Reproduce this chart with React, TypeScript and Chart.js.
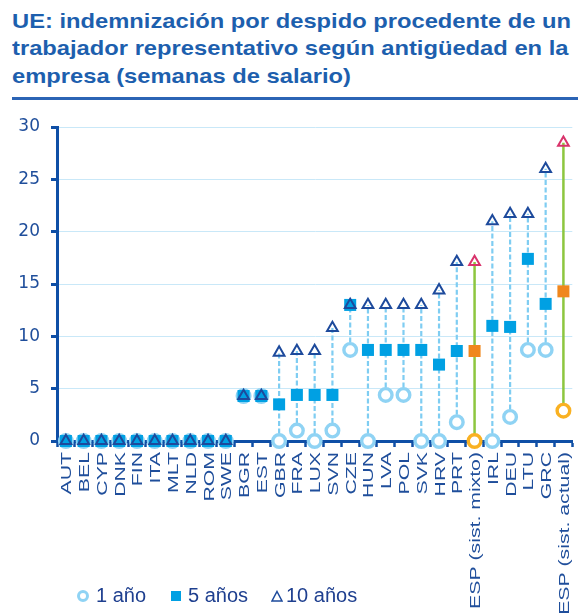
import React, { useEffect, useRef } from 'react';
import { Chart, registerables } from 'chart.js';

Chart.register(...registerables);

const categories = [
  'AUT', 'BEL', 'CYP', 'DNK', 'FIN', 'ITA', 'MLT', 'NLD', 'ROM', 'SWE',
  'BGR', 'EST', 'GBR', 'FRA', 'LUX', 'SVN', 'CZE', 'HUN', 'LVA', 'POL',
  'SVK', 'HRV', 'PRT', 'ESP (sist. mixto)', 'IRL', 'DEU', 'LTU', 'GRC', 'ESP (sist. actual)',
];
const oneYear = [
  0, 0, 0, 0, 0, 0, 0, 0, 0, 0,
  4.3, 4.3, 0, 1.0, 0, 1.0, 8.7, 0, 4.4, 4.4,
  0, 0, 1.8, 0, 0, 2.3, 8.7, 8.7, 2.9,
];
const fiveYears = [
  0, 0, 0, 0, 0, 0, 0, 0, 0, 0,
  4.3, 4.3, 3.5, 4.4, 4.4, 4.4, 13.0, 8.7, 8.7, 8.7,
  8.7, 7.3, 8.6, 8.6, 11.0, 10.9, 17.4, 13.1, 14.3,
];
const tenYears = [
  0, 0, 0, 0, 0, 0, 0, 0, 0, 0,
  4.3, 4.3, 8.45, 8.6, 8.6, 10.8, 13.0, 13.0, 13.0, 13.0,
  13.0, 14.4, 17.1, 17.1, 21.0, 21.7, 21.7, 26.0, 28.5,
];
const yMin = 0;
const yMax = 30;
const yStep = 5;
const legendLabels = ['1 año', '5 años', '10 años'];
const titleLines = [
  'UE: indemnización por despido procedente de un',
  'trabajador representativo según antigüedad en la',
  'empresa (semanas de salario)',
];

const DARK = '#0f4fa6';
const LABEL = '#1f4e9b';
const GRIDC = '#c9e8f8';
const LIGHT = '#8fd3f4';
const DASH = '#7fcdf2';
const SQUARE = '#00a0e3';
const TRI = '#1d4a9c';
const GREEN = '#8dc63f';
const ESP_CIRCLE = '#f9b122';
const ESP_SQUARE = '#f0871d';
const ESP_TRI = '#d9336b';
const FONT = '"Liberation Sans", Arial, sans-serif';

const isEsp = (i: number) => !!categories[i] && categories[i].startsWith('ESP');

const xLabelPlugin = {
  id: 'xLabelPlugin',
  afterDraw(chart: any) {
    const { ctx } = chart;
    const x = chart.scales.x;
    ctx.save();
    ctx.fillStyle = LABEL;
    ctx.font = '15.5px ' + FONT;
    ctx.textAlign = 'right';
    ctx.textBaseline = 'alphabetic';
    const top = x.top + 11;
    categories.forEach((c, i) => {
      const px = x.getPixelForValue(i);
      ctx.save();
      ctx.translate(px, top);
      ctx.rotate(-Math.PI / 2);
      ctx.scale(1.37, 1);
      ctx.fillText(c, 0, 5.5);
      ctx.restore();
    });
    ctx.restore();
  },
};

function ChartCanvas() {
  const ref = useRef<HTMLCanvasElement | null>(null);
  useEffect(() => {
    if (!ref.current) return;
    const connectorData = categories.flatMap((c, i) => [
      { x: c, y: oneYear[i] },
      { x: c, y: tenYears[i] },
      { x: c, y: null },
    ]);
    const chart = new Chart(ref.current, {
      type: 'line',
      data: {
        labels: categories,
        datasets: [
          {
            label: 'connectors',
            data: connectorData as any,
            borderColor: DASH,
            borderWidth: 2.2,
            borderDash: [5, 2.5],
            pointRadius: 0,
            spanGaps: false,
            clip: false as any,
            order: 10,
            segment: {
              borderColor: (ctx: any) => (isEsp(Math.floor(ctx.p0DataIndex / 3)) ? GREEN : DASH),
              borderDash: (ctx: any) => (isEsp(Math.floor(ctx.p0DataIndex / 3)) ? [] : [5, 2.5]),
              borderWidth: (ctx: any) => (isEsp(Math.floor(ctx.p0DataIndex / 3)) ? 2.5 : 2.2),
            },
          } as any,
          {
            label: legendLabels[0],
            data: oneYear,
            showLine: false,
            pointStyle: 'circle',
            pointRadius: 6.3,
            pointBorderWidth: 3.4,
            pointBorderColor: categories.map((c, i) => (isEsp(i) ? ESP_CIRCLE : LIGHT)),
            pointBackgroundColor: '#ffffff',
            clip: false as any,
            order: 3,
          } as any,
          {
            label: legendLabels[1],
            data: fiveYears,
            showLine: false,
            pointStyle: 'rect',
            pointRadius: 8.5,
            pointBorderWidth: 0,
            pointBackgroundColor: categories.map((c, i) => (isEsp(i) ? ESP_SQUARE : SQUARE)),
            pointBorderColor: categories.map((c, i) => (isEsp(i) ? ESP_SQUARE : SQUARE)),
            clip: false as any,
            order: 2,
          } as any,
          {
            label: legendLabels[2],
            data: tenYears,
            showLine: false,
            pointStyle: 'triangle',
            pointRadius: 6.2,
            pointBorderWidth: 2,
            pointBorderColor: categories.map((c, i) => (isEsp(i) ? ESP_TRI : TRI)),
            pointBackgroundColor: 'rgba(255,255,255,0)',
            clip: false as any,
            order: 1,
          } as any,
        ],
      },
      options: {
        responsive: false,
        animation: false,
        events: [],
        layout: { padding: { left: 0, right: 8, top: 27, bottom: 0 } },
        plugins: {
          legend: { display: false },
          tooltip: { enabled: false },
          title: { display: false },
        },
        scales: {
          x: {
            type: 'category',
            offset: true,
            grid: {
              offset: true,
              drawOnChartArea: false,
              drawTicks: true,
              tickLength: 6,
              tickWidth: 2.5,
              tickColor: DARK,
              color: DARK,
            },
            border: { color: DARK, width: 3 },
            ticks: { display: false },
            afterFit: (s: any) => {
              s.height = 172;
            },
          },
          y: {
            min: yMin,
            max: yMax,
            ticks: {
              stepSize: yStep,
              padding: 11,
              color: LABEL,
              font: { family: '"DejaVu Sans"', size: 17 },
            },
            grid: {
              color: GRIDC,
              lineWidth: 1,
              tickColor: DARK,
              tickWidth: 3,
              tickLength: 6,
            },
            border: { color: DARK, width: 3 },
            afterFit: (s: any) => {
              s.width = 57;
            },
          },
        } as any,
      },
      plugins: [xLabelPlugin],
    });
    return () => chart.destroy();
  }, []);
  return (
    <canvas
      ref={ref}
      width={582}
      height={513}
      style={{ position: 'absolute', left: 0, top: 100, width: 582, height: 513 }}
    />
  );
}

export default function App() {
  const legendText: React.CSSProperties = {
    position: 'absolute',
    top: 585,
    font: '20px ' + FONT,
    lineHeight: '20px',
    color: '#1e3f8f',
    whiteSpace: 'nowrap',
  };
  return (
    <div
      style={{
        position: 'absolute',
        left: 0,
        top: 0,
        width: 582,
        height: 613,
        background: '#ffffff',
        overflow: 'hidden',
      }}
    >
      <div
        style={{
          position: 'absolute',
          left: 12,
          top: 7,
          color: '#1d5fae',
          font: 'bold 21px ' + FONT,
          lineHeight: '27.3px',
          transform: 'scaleX(1.13)',
          transformOrigin: 'left top',
          whiteSpace: 'nowrap',
        }}
      >
        {titleLines.map((t, i) => (
          <div key={i}>{t}</div>
        ))}
      </div>
      <div
        style={{
          position: 'absolute',
          left: 12,
          top: 97,
          width: 566,
          height: 3,
          background: '#2b64b5',
        }}
      />
      <ChartCanvas />
      <div
        style={{
          position: 'absolute',
          left: 77,
          top: 590,
          width: 12,
          height: 12,
          boxSizing: 'border-box',
          border: '3px solid ' + LIGHT,
          borderRadius: '50%',
        }}
      />
      <div style={{ ...legendText, left: 96 }}>{legendLabels[0]}</div>
      <div
        style={{
          position: 'absolute',
          left: 171,
          top: 591,
          width: 10,
          height: 10,
          background: SQUARE,
        }}
      />
      <div style={{ ...legendText, left: 188 }}>{legendLabels[1]}</div>
      <svg
        width={12}
        height={12}
        style={{ position: 'absolute', left: 271, top: 590 }}
      >
        <polygon points="6,1.5 11,11 1,11" fill="none" stroke={TRI} strokeWidth={1.5} />
      </svg>
      <div style={{ ...legendText, left: 286 }}>{legendLabels[2]}</div>
    </div>
  );
}
